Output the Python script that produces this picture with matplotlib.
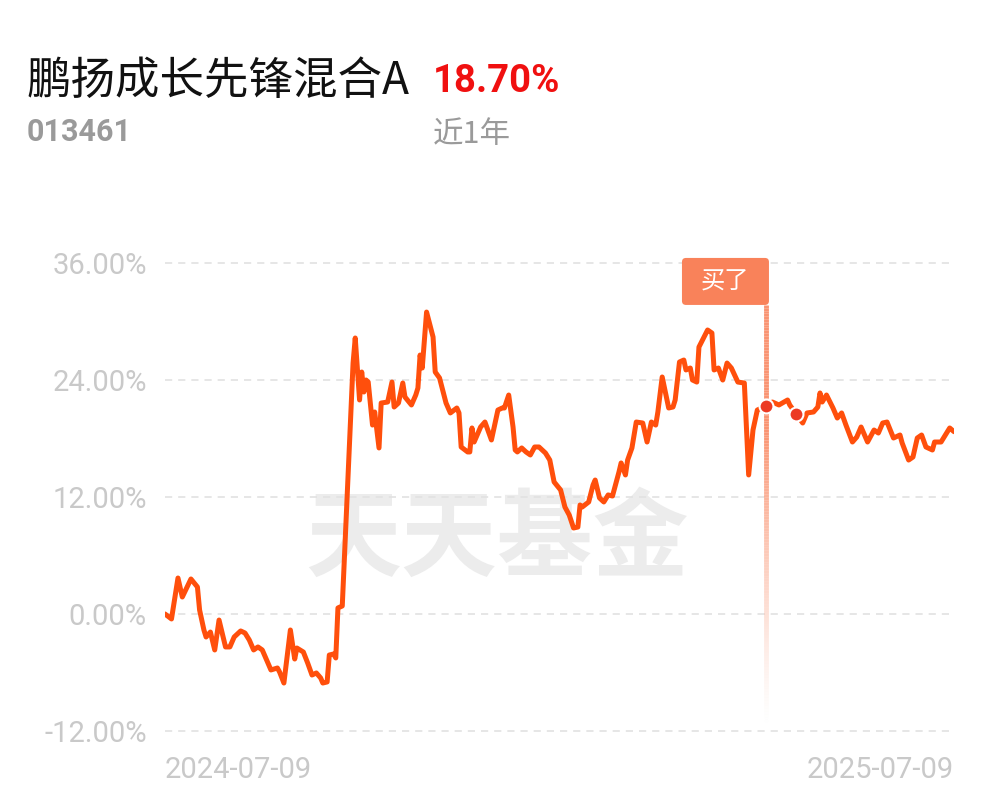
import matplotlib.pyplot as plt
import numpy as np
from matplotlib.collections import LineCollection
from matplotlib.patches import FancyBboxPatch
from matplotlib.transforms import IdentityTransform

fund_name = '鹏扬成长先锋混合A'
fund_code = '013461'
period_return = '18.70%'
period_label = '近1年'
watermark = '天天基金'

# days since 2024-07-09, cumulative return in %
days = [0, 3, 6, 8, 12, 15, 16, 18, 19, 21, 23, 25, 28, 30, 32, 35, 37, 39, 41, 43,
        45, 47, 49, 52, 53, 55, 58, 60, 61, 64, 66, 68, 70, 72, 73, 75, 76, 78, 79, 80,
        82, 87, 88, 90, 91, 92, 93, 94, 96, 97, 99, 100, 103, 105, 106, 108, 110, 111, 114, 116,
        117, 118, 119, 121, 124, 125, 127, 130, 132, 135, 136, 137, 140, 141, 142, 143, 146, 148, 151, 154,
        156, 157, 159, 161, 162, 163, 165, 167, 169, 171, 173, 176, 178, 180, 183, 185, 187, 189, 191, 192,
        193, 196, 198, 199, 201, 203, 205, 207, 210, 211, 213, 214, 216, 218, 221, 223, 225, 227, 228, 230,
        233, 235, 236, 238, 240, 241, 243, 244, 246, 247, 251, 253, 254, 256, 258, 260, 262, 265, 268, 270,
        272, 274, 278, 281, 284, 288, 289, 292, 295, 297, 300, 302, 303, 304, 306, 309, 311, 313, 315, 318,
        320, 322, 325, 328, 330, 332, 334, 337, 340, 341, 344, 346, 348, 350, 352, 355, 356, 359, 363, 365]
returns = [0.00, -0.51, 3.69, 1.74, 3.59, 2.77, 0.41, -1.64, -2.36, -1.85, -3.69, -0.62, -3.38, -3.38, -2.36, -1.74, -1.95, -2.67, -3.69, -3.38,
           -3.69, -4.72, -5.74, -5.54, -5.95, -7.08, -1.64, -4.62, -3.49, -3.90, -5.03, -6.26, -6.05, -6.56, -7.08, -6.97, -4.21, -4.10, -4.51, 0.62,
           0.82, 25.74, 28.31, 21.95, 24.82, 22.77, 24.00, 23.79, 19.38, 20.72, 17.03, 21.64, 21.74, 23.79, 21.23, 21.64, 23.69, 22.26, 21.44, 22.46,
           23.18, 26.56, 25.23, 30.97, 28.41, 24.82, 24.21, 21.64, 20.62, 21.13, 20.62, 17.13, 16.62, 16.62, 19.08, 17.64, 19.18, 19.69, 17.85, 20.92,
           21.13, 21.13, 22.46, 19.18, 16.82, 16.62, 17.03, 16.62, 16.31, 17.13, 17.13, 16.51, 15.79, 13.54, 12.72, 10.97, 10.15, 8.82, 8.92, 11.18,
           10.97, 11.49, 13.23, 13.74, 11.90, 11.49, 12.21, 12.10, 14.56, 15.49, 14.26, 15.79, 17.03, 19.69, 19.59, 17.64, 19.69, 19.38, 20.72, 24.31,
           21.13, 21.23, 21.95, 25.85, 26.05, 25.03, 25.23, 24.00, 23.79, 27.38, 29.13, 28.82, 25.03, 25.23, 24.00, 25.74, 25.23, 23.79, 23.69, 14.26,
           18.87, 20.92, 21.33, 21.74, 21.44, 21.95, 21.44, 20.51, 19.59, 20.62, 20.72, 21.23, 22.67, 21.74, 22.46, 21.13, 20.10, 20.62, 19.38, 17.64,
           18.15, 19.18, 17.64, 18.87, 18.56, 19.59, 19.69, 18.05, 18.36, 17.54, 15.79, 16.10, 18.05, 18.36, 17.13, 16.82, 17.64, 17.64, 19.08, 18.70]
buy_days = [278, 292]
buy_text = '买了'
y_ticks = [-12, 0, 12, 24, 36]
x_labels = ['2024-07-09', '2025-07-09']

line_color = '#FF4F0C'
buy_color = '#F9825A'
label_gray = '#C9C9C9'

fig = plt.figure(figsize=(9.97, 8.02), dpi=100)
ax = fig.add_axes([0.1655, 0.0849, 0.7914, 0.5908])
ax.set_xlim(days[0], days[-1])
ax.set_ylim(-12.3, 36.3)

ax.set_yticks(y_ticks, [f'{v:.2f}%' for v in y_ticks])
ax.grid(axis='y', color='#E2E2E2', linestyle=(0, (4.3, 3.6)), linewidth=1.2)
ax.set_axisbelow(True)
ax.set_xticks([days[0], days[-1]], x_labels)
ax.tick_params(length=0, labelcolor=label_gray, labelsize=21)
ax.tick_params(axis='y', pad=13)
ax.tick_params(axis='x', pad=16)
for lab in ax.get_xticklabels() + ax.get_yticklabels():
    lab.set_family('Roboto')
xl = ax.get_xticklabels()
xl[0].set_ha('left')
xl[-1].set_ha('right')
for s in ax.spines.values():
    s.set_visible(False)

# watermark sits behind the line
ax.text(0.4985, 0.325, watermark, transform=fig.transFigure, ha='center', va='center',
        fontsize=69, family='Noto Sans CJK SC', weight='bold', color='#ECECEC', zorder=0.5)

# buy marker: fading vertical line
top_val, bottom_val = 31.7, -11.4
ys = np.linspace(top_val, bottom_val, 150)
segs = [[(buy_days[0], ys[i]), (buy_days[0], ys[i + 1])] for i in range(len(ys) - 1)]
t = np.linspace(0, 1, len(segs))
alpha = 0.85 * np.clip(1 - np.maximum(t - 0.3, 0) / 0.7, 0, 1) ** 1.3
rgb = plt.matplotlib.colors.to_rgb(buy_color)
lc = LineCollection(segs, colors=[(*rgb, a) for a in alpha], linewidths=3.5, zorder=2)
ax.add_collection(lc)

ax.plot(days, returns, color=line_color, linewidth=3.6, solid_joinstyle='round',
        solid_capstyle='round', zorder=3)
for d in buy_days:
    ax.plot(d, returns[days.index(d)], 'o', color='#EC3A24', markersize=10,
            markeredgecolor='white', markeredgewidth=1.5, zorder=4)

bx, by = ax.transData.transform((buy_days[0], top_val))
box = FancyBboxPatch((bx + 3 - 87, by), 87, 47, boxstyle='round,pad=0,rounding_size=4',
                     transform=IdentityTransform(), fc=buy_color, ec='none')
fig.add_artist(box)
fig.text(bx + 3 - 43.5, by + 23.5, buy_text, transform=IdentityTransform(), ha='center',
         va='center', fontsize=17.5, color='white', family='Noto Sans CJK SC')

fig.text(0.027, 0.899, fund_name, ha='left', va='center', fontsize=32,
         family='Noto Sans CJK SC', color='#111111')
fig.text(0.4343, 0.899, period_return, ha='left', va='center', fontsize=27.5,
         family='Roboto', weight='bold', color='#F01010')
fig.text(0.027, 0.836, fund_code, ha='left', va='center', fontsize=22,
         family='Roboto', weight='bold', color='#9A9A9A')
fig.text(0.4343, 0.832, period_label, ha='left', va='center', fontsize=22,
         family='Noto Sans CJK SC', color='#9A9A9A')

fig.savefig('out.png', dpi=100)
